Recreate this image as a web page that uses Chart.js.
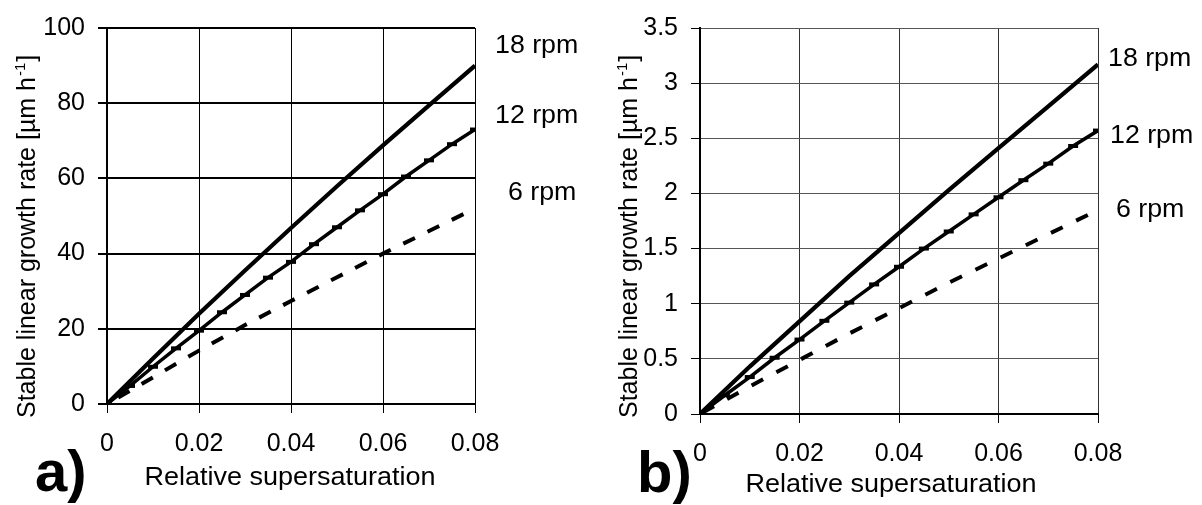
<!DOCTYPE html>
<html><head><meta charset="utf-8">
<script src="https://cdn.jsdelivr.net/npm/chart.js@4.4.0/dist/chart.umd.min.js"></script>
<style>
html,body{margin:0;padding:0;background:#fff;width:1202px;height:505px;overflow:hidden}
#wa{position:absolute;left:0;top:0;width:600px;height:505px}
#wb{position:absolute;left:600px;top:0;width:602px;height:505px}
canvas{display:block}
</style></head><body>
<div id="wa"><canvas id="ca" width="600" height="505"></canvas></div>
<div id="wb"><canvas id="cb" width="602" height="505"></canvas></div>
<script>
// ---- data ----
const xFine = [0,0.005,0.01,0.015,0.02,0.025,0.03,0.035,0.04,0.045,0.05,0.055,0.06,0.065,0.07,0.075,0.08];
const xCoarse = [0,0.01,0.02,0.03,0.04,0.05,0.06,0.07,0.08];
const xTicks = [0,0.02,0.04,0.06,0.08];
const yTicksA = [0,20,40,60,80,100];
const yTicksB = [0,0.5,1,1.5,2,2.5,3,3.5];
const seriesLabels = ['18 rpm','12 rpm','6 rpm'];
const panelLabels = ['a)','b)'];
const xTitle = 'Relative supersaturation';
const yTitleMain = 'Stable linear growth rate [\u00b5m h';
const yTitleSup = '-1';
const yTitleEnd = ']';

// panel a (rates in µm/h)
const a18 = [0,12.1,24.0,35.5,46.8,57.9,68.8,79.4,90.0];
const a12 = [0,4.8,9.9,14.8,19.5,24.4,29.0,33.6,37.8,42.5,47.0,51.5,55.8,60.5,64.8,69.1,73.0];
const a6  = [0,7.1,14.2,21.0,27.4,33.7,40.0,46.0,52.0];
// panel b
const b18 = [0,0.43,0.84,1.25,1.64,2.03,2.41,2.79,3.17];
const b12 = [0,0.17,0.335,0.51,0.675,0.845,1.01,1.175,1.335,1.50,1.655,1.81,1.965,2.12,2.27,2.43,2.57];
const b6  = [0,0.25,0.49,0.73,0.96,1.19,1.41,1.63,1.85];

const FONT = "'Liberation Sans', Arial, sans-serif";

function pts(xs, ys){ return xs.map((x,i)=>({x:x, y:ys[i]})); }

function textPlugin(cfg){
  return {
    id:'txt',
    afterDraw(chart){
      const c = chart.ctx;
      c.save();
      c.fillStyle = '#000';
      c.textBaseline = 'alphabetic';
      c.font = '25px ' + FONT;
      c.textAlign = 'left';
      cfg.lab.forEach((p,i)=>{
        c.save(); c.translate(p[0], p[1]); c.scale(1.07,1); c.fillText(seriesLabels[i],0,0); c.restore();
      });
      c.save(); c.translate(cfg.xt[0], cfg.xt[1]); c.scale(1.08,1); c.textAlign='center'; c.fillText(xTitle,0,0); c.restore();
      c.save(); c.translate(cfg.yt[0], cfg.yt[1]); c.rotate(-Math.PI/2);
      c.textAlign='left';
      c.font = '25px ' + FONT;
      const w = c.measureText(yTitleMain).width;
      c.fillText(yTitleMain,0,0);
      c.font = '15px ' + FONT;
      c.fillText(yTitleSup,w+1,-10);
      const w2 = c.measureText(yTitleSup).width;
      c.font = '25px ' + FONT;
      c.fillText(yTitleEnd,w+w2+2,0);
      c.restore();
      c.font = 'bold 58px ' + FONT;
      c.fillText(cfg.letter, cfg.pl[0], cfg.pl[1]);
      c.restore();
    }
  };
}

function makeChart(id, cfg){
  return new Chart(document.getElementById(id), {
    type:'line',
    data:{datasets:[
      {label:seriesLabels[0], data:pts(xCoarse,cfg.s18), borderColor:'#000', borderWidth:4.2, pointRadius:0, tension:0, fill:false},
      {label:seriesLabels[1], data:pts(xFine,cfg.s12), borderColor:'#000', borderWidth:3.5, tension:0, fill:false,
        pointStyle:'line', pointRadius:5, pointBorderWidth:4, pointBorderColor:'#000', pointBackgroundColor:'#000'},
      {label:seriesLabels[2], data:pts(xCoarse,cfg.s6), borderColor:'#000', borderWidth:4, borderDash:cfg.dash, borderDashOffset:cfg.dashOff, borderCapStyle:'butt', pointRadius:0, tension:0, fill:false}
    ]},
    options:{
      responsive:false, animation:false, events:[],
      layout:{padding:{left:0, top:cfg.top, right:cfg.right, bottom:0}},
      plugins:{legend:{display:false}, tooltip:{enabled:false}, title:{display:false}},
      scales:{
        x:{type:'linear', min:0, max:0.08,
          afterBuildTicks:s=>{ s.ticks = xTicks.map(v=>({value:v})); },
          afterFit:s=>{ s.height = cfg.xh; },
          grid:{color:cfg.xGridColor, lineWidth:1, tickLength:9, tickColor:'#000'},
          border:{color:'#000', width:2},
          ticks:{color:'#000', font:{family:FONT, size:25}, padding:cfg.xPad, maxRotation:0, autoSkip:false, callback:v=>String(v)}
        },
        y:{type:'linear', min:0, max:cfg.ymax,
          afterBuildTicks:s=>{ s.ticks = cfg.yTicks.map(v=>({value:v})); },
          afterFit:s=>{ s.width = cfg.yw; },
          grid:{color:cfg.yGridColor, lineWidth:cfg.yGridW, tickLength:9, tickColor:'#000'},
          border:{color:'#000', width:2},
          ticks:{color:'#000', font:{family:FONT, size:25}, padding:13, autoSkip:false, callback:v=>String(v)}
        }
      }
    },
    plugins:[textPlugin(cfg)]
  });
}

makeChart('ca', {
  s18:a18, s12:a12, s6:a6, ymax:100, yTicks:yTicksA,
  top:27, right:125, xh:101, yw:107, xPad:16,
  xGridColor:'#000', yGridColor:'#000', yGridW:2, dash:[13,14], dashOff:14,
  lab:[[495,53],[495,123],[508,200]],
  xt:[290,485], yt:[35,418], letter:panelLabels[0], pl:[35,491]
});
makeChart('cb', {
  s18:b18, s12:b12, s6:b6, ymax:3.5, yTicks:yTicksB,
  top:25, right:104, xh:91, yw:100, xPad:16,
  xGridColor:'#333', yGridColor:'#555', yGridW:1, dash:[13,15], dashOff:25,
  lab:[[508,66],[510,143],[516,217]],
  xt:[291,492], yt:[37,418], letter:panelLabels[1], pl:[37,492]
});
</script>
</body></html>
